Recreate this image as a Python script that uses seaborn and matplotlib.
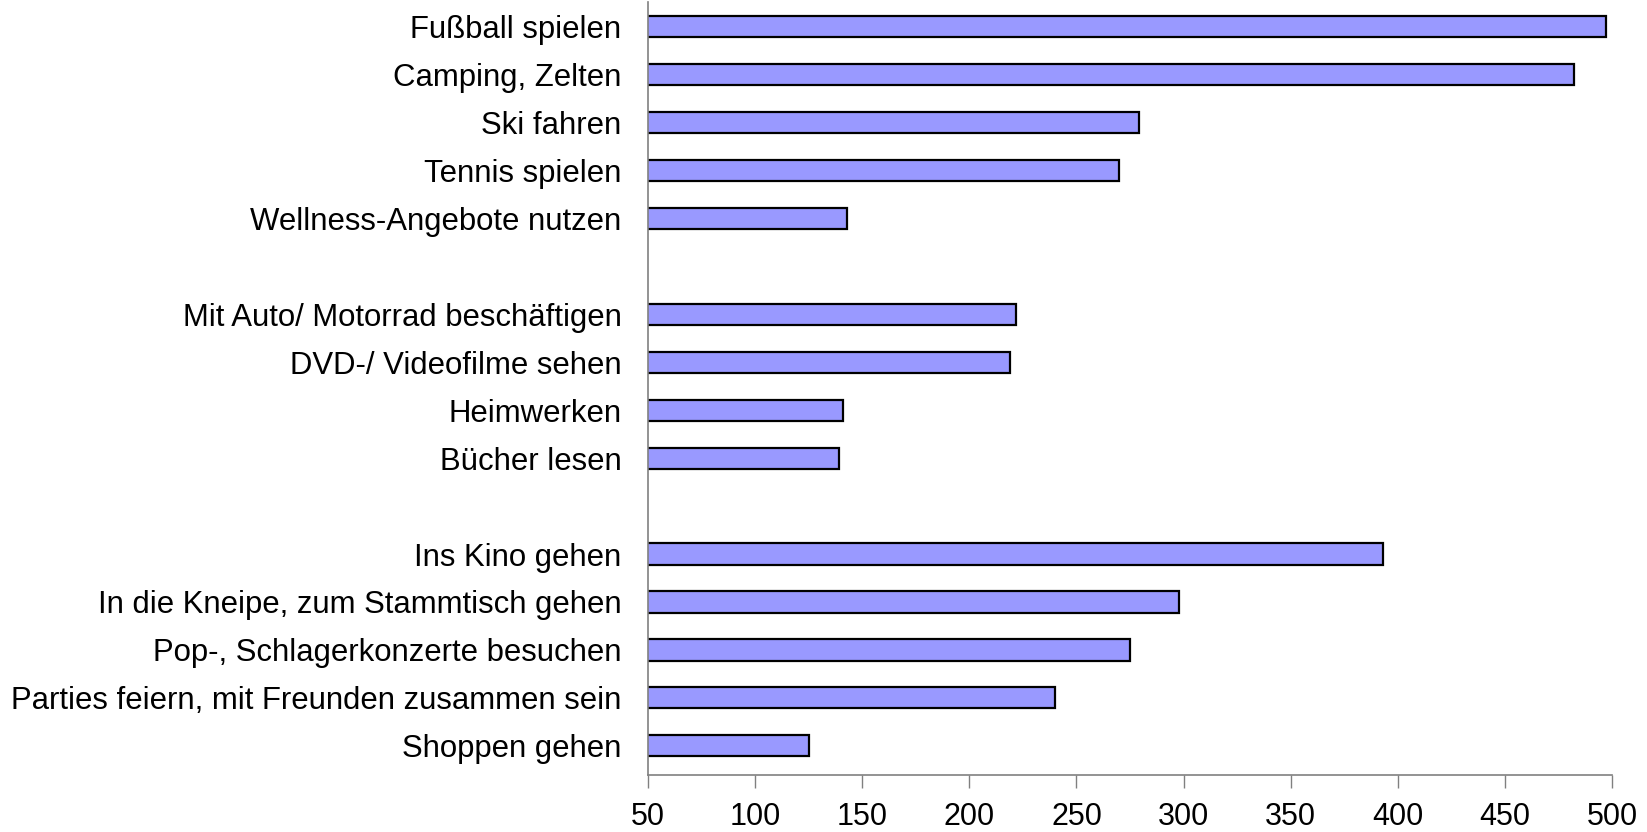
import matplotlib
matplotlib.use("Agg")
import matplotlib.pyplot as plt
import seaborn as sns
import pandas as pd

categories = [
    "Fußball spielen", "Camping, Zelten", "Ski fahren", "Tennis spielen",
    "Wellness-Angebote nutzen",
    "Mit Auto/ Motorrad beschäftigen", "DVD-/ Videofilme sehen", "Heimwerken",
    "Bücher lesen",
    "Ins Kino gehen", "In die Kneipe, zum Stammtisch gehen",
    "Pop-, Schlagerkonzerte besuchen",
    "Parties feiern, mit Freunden zusammen sein", "Shoppen gehen",
]
values = [497, 482, 279, 270, 143, 222, 219, 141, 139, 393, 298, 275, 240, 125]
order = categories[:5] + [" "] + categories[5:9] + ["  "] + categories[9:]
xticks = [50, 100, 150, 200, 250, 300, 350, 400, 450, 500]

df = pd.DataFrame({"cat": categories, "val": values})

sns.set_style("white")
plt.rcParams["font.family"] = ["Liberation Sans", "DejaVu Sans"]

fig = plt.figure(figsize=(16.47, 8.32), dpi=100)
ax = fig.add_axes([0.3934, 0.0683, 0.5854, 0.9289])

sns.barplot(data=df, x="val", y="cat", order=order, orient="h",
            color="#9999FF", saturation=1, width=0.44,
            edgecolor="black", linewidth=1.6, ax=ax)

ax.set_xlim(50, 500)
ax.set_ylim(15.61, -0.5)
ax.set_xticks(xticks)
ax.set_xticklabels([str(t) for t in xticks])
ax.set_xlabel("")
ax.set_ylabel("")

for s in ["top", "right"]:
    ax.spines[s].set_visible(False)
for s in ["left", "bottom"]:
    ax.spines[s].set_color("#808080")
    ax.spines[s].set_linewidth(1.2)

ax.tick_params(axis="y", length=0, pad=19, labelsize=22.4)
ax.tick_params(axis="x", direction="out", length=9, width=1, color="#808080",
               pad=10.5, labelsize=22, bottom=True)
for lbl in ax.get_yticklabels() + ax.get_xticklabels():
    lbl.set_color("black")

fig.savefig("out.png", dpi=100, facecolor="white")
